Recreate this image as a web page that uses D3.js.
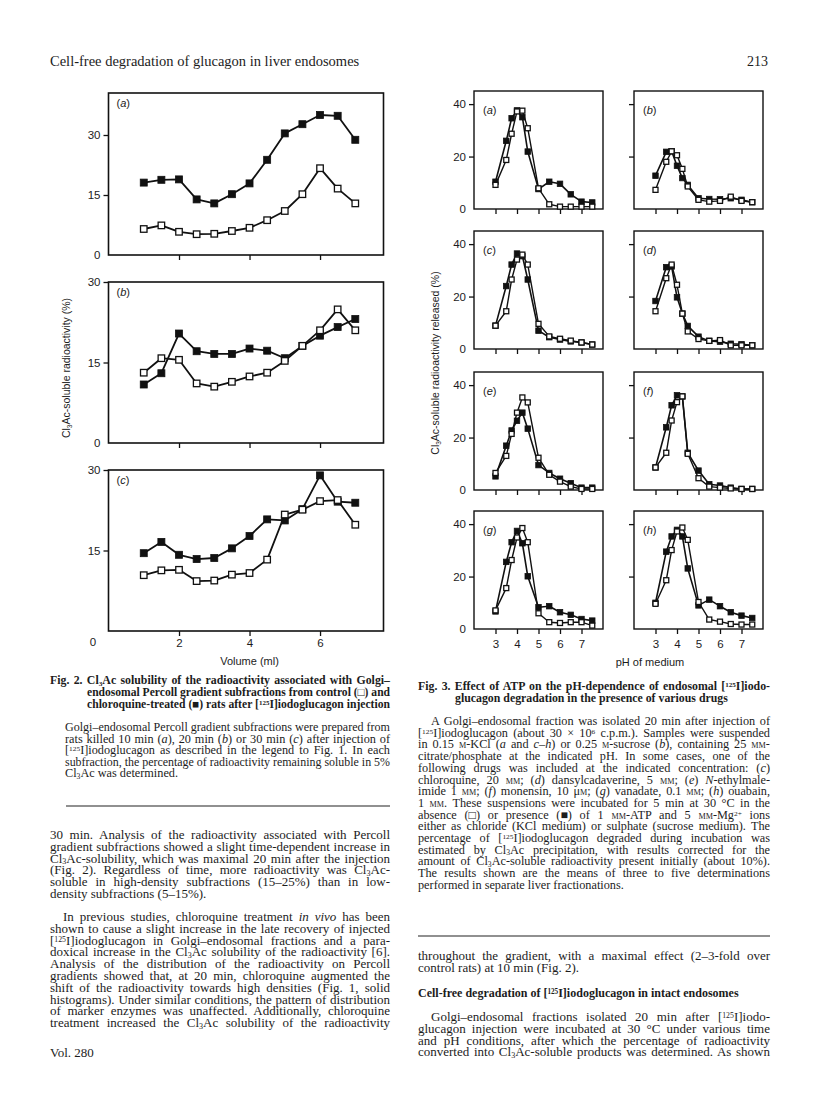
<!DOCTYPE html>
<html>
<head>
<meta charset="utf-8">
<script src="https://cdn.jsdelivr.net/npm/d3@7"></script>
<style>
  body { margin: 0; background: #fff; }
  svg { display: block; }
  text { fill: #1c1c1c; }
</style>
</head>
<body>
<div id="page"></div>
<script>
// ---- Fig. 2 data: Cl3Ac-soluble radioactivity (%) vs volume (ml)
const volume = [1, 1.5, 2, 2.5, 3, 3.5, 4, 4.5, 5, 5.5, 6, 6.5, 7]
const fig2aControl = [6.5, 7.4, 5.8, 5.2, 5.3, 6.0, 6.8, 8.7, 11.0, 15.2, 21.7, 16.6, 12.9]
const fig2aChloroquine = [18.1, 18.8, 18.9, 13.9, 12.9, 15.2, 17.9, 23.8, 30.4, 32.7, 35.0, 34.8, 28.8]
const fig2bControl = [13.1, 15.8, 15.5, 11.1, 10.5, 11.4, 12.4, 13.1, 15.3, 18.1, 21.0, 24.9, 21.0]
const fig2bChloroquine = [10.9, 13.0, 20.4, 17.1, 16.6, 16.6, 17.6, 17.2, 15.8, 18.1, 20.0, 21.6, 23.1]
const fig2cControl = [10.4, 11.3, 11.4, 9.3, 9.4, 10.5, 10.8, 13.3, 21.7, 22.6, 24.2, 24.4, 19.8]
const fig2cChloroquine = [14.5, 16.6, 14.2, 13.4, 13.6, 15.4, 17.7, 20.8, 20.6, 22.7, 29.0, 24.1, 23.9]
const fig2xTicks = [2, 4, 6]

// ---- Fig. 3 data: radioactivity released (%) vs pH, with (ATP) / without (none)
const ph = [3, 3.5, 3.75, 4, 4.25, 4.5, 5, 5.5, 6, 6.5, 7, 7.5]
const fig3aATP = [10.4, 26, 34.6, 37.6, 35, 21.9, 7.6, 10.4, 9.6, 5.6, 2.8, 2.5]
const fig3aNone = [9.2, 18.7, 28.7, 37.2, 37.5, 30.8, 7.9, 1.8, 0.9, 0.9, 0.9, 0.9]
const fig3bATP = [12.7, 21.8, 22, 16.5, 11.8, 9.2, 4.1, 3.8, 3.7, 4.1, 3.5, 2.6]
const fig3bNone = [7.3, 18, 22, 20.5, 15.3, 8.6, 3.5, 2.8, 3.1, 4.7, 3.1, 2.6]
const fig3cATP = [8.9, 24, 32.2, 36.4, 35.4, 26.5, 7, 4.5, 3.6, 2.9, 2.5, 1.7]
const fig3cNone = [8.9, 14.4, 26.5, 34.1, 36, 32.2, 9.6, 4.8, 3.9, 3.2, 2.5, 1.7]
const fig3dATP = [18.3, 31.2, 31.5, 19.7, 13.5, 8.8, 4.7, 3.1, 2.8, 2.0, 1.8, 1.4]
const fig3dNone = [14.4, 27, 32.2, 24.5, 13.5, 6.7, 3.8, 3.1, 3.4, 1.4, 1.4, 1.4]
const fig3eATP = [5.2, 16.9, 22.7, 26.4, 29.5, 23.4, 9.5, 6.5, 4.3, 2.6, 0.9, 0.9]
const fig3eNone = [6.5, 13, 21.4, 29.5, 35.3, 33.4, 12.3, 5.8, 3.2, 1.3, 0.4, 0.4]
const fig3fATP = [8.6, 23.9, 32.3, 36.1, 35.7, 14.2, 7.4, 2.2, 1.7, 0.9, 0.4, 0.4]
const fig3fNone = [8.6, 14.2, 26.5, 33.5, 35.7, 13.8, 4.5, 1.3, 0.9, 0.6, 0.4, 0.4]
const fig3gATP = [6.7, 25.6, 33.1, 37.4, 32.7, 20.1, 8.3, 8.7, 6.4, 5.4, 3.8, 3.2]
const fig3gNone = [7.1, 15.6, 26.3, 34.9, 38.5, 33.1, 6.0, 2.6, 2.3, 2.6, 2.6, 1.3]
const fig3hATP = [10, 29.5, 35.3, 37.8, 35.3, 23.1, 9, 11.2, 8.7, 6.4, 5.1, 4.2]
const fig3hNone = [9.6, 18.6, 30.1, 37.2, 38.7, 34, 10.3, 3.6, 2.8, 1.9, 1.7, 1.7]
const fig3xTicks = [3, 4, 5, 6, 7]
const fig3yTicks = [20, 40]

const W = 816
const H = 1101

const svg = d3
  .select('#page')
  .append('svg')
  .attr('width', W)
  .attr('height', H)

const sans = 'Liberation Sans, Arial, sans-serif'
const serif = 'Liberation Serif, Times New Roman, serif'

// small markup: _{sub} ^{sup} *italic* #{smallcaps}
function rich(sel, str) {
  const parts = str.split(/(_\{[^}]*\}|\^\{[^}]*\}|\*[^*]+\*|#\{[^}]*\})/).filter(s => s !== '')
  let shift = 0
  parts.forEach(p => {
    const t = sel.append('tspan')
    let dy = 0
    if (p.startsWith('_{')) {
      t.text(p.slice(2, -1)).attr('font-size', '62%')
      dy = 1.5
    } else if (p.startsWith('^{')) {
      t.text(p.slice(2, -1)).attr('font-size', '60%')
      dy = -3
    } else if (p.startsWith('*')) {
      t.text(p.slice(1, -1)).attr('font-style', 'italic')
    } else if (p.startsWith('#{')) {
      t.text(p.slice(2, -1)).style('font-variant', 'small-caps')
    } else {
      t.text(p)
    }
    if (dy - shift !== 0) t.attr('dy', dy - shift)
    shift = dy
  })
}

function justify(sel, width) {
  const natural = sel.node().getComputedTextLength()
  const spaces = (sel.text().match(/ /g) || []).length
  if (natural < width && spaces) {
    sel.style('word-spacing', (width - natural) / spaces + 'px')
  } else if (natural > width) {
    sel.attr('textLength', width).attr('lengthAdjust', 'spacingAndGlyphs')
  }
}

// b: {x, right, y, lh, size, weight, indent, hang, stretch, ragged, lines}
function block(b) {
  const s = b.stretch || 1
  b.lines.forEach((line, i) => {
    const x = b.x + (i === 0 ? b.indent || 0 : b.hang || 0)
    const t = svg
      .append('text')
      .attr('transform', `translate(${x},${b.y + i * b.lh}) scale(${s},1)`)
      .attr('font-family', serif)
      .attr('font-size', b.size)
      .attr('font-weight', b.weight || 'normal')
    rich(t, line)
    if (!(b.ragged || []).includes(i)) justify(t, (b.right - x) / s)
  })
}

// ---------- running head
svg.append('text')
  .attr('x', 50).attr('y', 66)
  .attr('font-family', serif).attr('font-size', 14.5)
  .text('Cell-free degradation of glucagon in liver endosomes')
svg.append('text')
  .attr('x', 768).attr('y', 66).attr('text-anchor', 'end')
  .attr('font-family', serif).attr('font-size', 14)
  .text('213')

// ---------- Fig. 2
const x2 = d3.scaleLinear().domain([0, 7.8]).range([108.5, 383.5])

const fig2Panels = [
  { key: 'a', top: 93, bottom: 255, yMax: 40.5, yTicks: [0, 15, 30], control: fig2aControl, treated: fig2aChloroquine },
  { key: 'b', top: 282, bottom: 443, yMax: 30, yTicks: [0, 15, 30], control: fig2bControl, treated: fig2bChloroquine },
  { key: 'c', top: 470, bottom: 631, yMax: 30, yTicks: [15, 30], control: fig2cControl, treated: fig2cChloroquine }
]

function series(g, xs, ys, x, y, filled, size, lw) {
  const line = d3.line().x((d, i) => x(xs[i])).y(d => y(d))
  g.append('path')
    .attr('d', line(ys))
    .attr('fill', 'none')
    .attr('stroke', '#111')
    .attr('stroke-width', lw)
    .attr('stroke-linejoin', 'round')
  g.selectAll(null)
    .data(ys)
    .enter()
    .append('rect')
    .attr('x', (d, i) => x(xs[i]) - size / 2)
    .attr('y', d => y(d) - size / 2)
    .attr('width', size)
    .attr('height', size)
    .attr('fill', filled ? '#111' : '#fff')
    .attr('stroke', '#111')
    .attr('stroke-width', filled ? 0.8 : 1.3)
}

function styleAxis(g, fontSize) {
  g.select('.domain').remove()
  g.selectAll('line').attr('stroke', '#111').attr('stroke-width', 1.3)
  g.selectAll('text')
    .attr('font-family', sans)
    .attr('font-size', fontSize)
    .attr('fill', '#1c1c1c')
}

function panelLabel(x, y, key, size) {
  const t = svg.append('text')
    .attr('x', x).attr('y', y)
    .attr('font-family', sans).attr('font-size', size)
  t.append('tspan').text('(')
  t.append('tspan').attr('font-style', 'italic').text(key)
  t.append('tspan').text(')')
}

fig2Panels.forEach(p => {
  const y = d3.scaleLinear().domain([0, p.yMax]).range([p.bottom, p.top])
  const g = svg.append('g')

  g.append('g')
    .attr('transform', `translate(0,${p.bottom})`)
    .call(d3.axisBottom(x2).tickValues(fig2xTicks).tickSize(5).tickPadding(3)
      .tickFormat(p.key === 'c' ? d3.format('d') : ''))
    .call(a => styleAxis(a, 11.5))

  const yAxis = g.append('g')
    .attr('transform', `translate(${x2.range()[0]},0)`)
    .call(d3.axisLeft(y).tickValues(p.yTicks).tickSize(5).tickPadding(3).tickFormat(d3.format('d')))
    .call(a => styleAxis(a, 11.5))
  yAxis.selectAll('.tick').filter(d => d === 0).select('line').remove()

  g.append('rect')
    .attr('x', x2.range()[0])
    .attr('y', p.top)
    .attr('width', x2.range()[1] - x2.range()[0])
    .attr('height', p.bottom - p.top)
    .attr('fill', 'none')
    .attr('stroke', '#111')
    .attr('stroke-width', 1.6)

  series(g, volume, p.treated, x2, y, true, 7, 1.8)
  series(g, volume, p.control, x2, y, false, 6.5, 1.8)

  panelLabel(x2.range()[0] + 8, p.top + 14, p.key, 11)
})

// origin label under panel (c)
svg.append('text')
  .attr('x', 93).attr('y', 646).attr('text-anchor', 'middle')
  .attr('font-family', sans).attr('font-size', 11.5)
  .text('0')

svg.append('text')
  .attr('x', x2(4)).attr('y', 665).attr('text-anchor', 'middle')
  .attr('font-family', sans).attr('font-size', 11)
  .text('Volume (ml)')

const yTitle2 = svg.append('text')
  .attr('transform', 'translate(70,368) rotate(-90)')
  .attr('text-anchor', 'middle')
  .attr('font-family', sans).attr('font-size', 10.5)
rich(yTitle2, 'Cl_{3}Ac-soluble radioactivity (%)')

// ---------- Fig. 3
const fig3Cols = [474, 634]
const fig3Rows = [91, 231, 372, 511]
const fig3W = 129
const fig3H = 118

const fig3Panels = [
  { key: 'a', col: 0, row: 0, atp: fig3aATP, none: fig3aNone },
  { key: 'b', col: 1, row: 0, atp: fig3bATP, none: fig3bNone },
  { key: 'c', col: 0, row: 1, atp: fig3cATP, none: fig3cNone },
  { key: 'd', col: 1, row: 1, atp: fig3dATP, none: fig3dNone },
  { key: 'e', col: 0, row: 2, atp: fig3eATP, none: fig3eNone },
  { key: 'f', col: 1, row: 2, atp: fig3fATP, none: fig3fNone },
  { key: 'g', col: 0, row: 3, atp: fig3gATP, none: fig3gNone },
  { key: 'h', col: 1, row: 3, atp: fig3hATP, none: fig3hNone }
]

fig3Panels.forEach(p => {
  const left = fig3Cols[p.col]
  const top = fig3Rows[p.row]
  const x = d3.scaleLinear().domain([2, 8]).range([left, left + fig3W])
  const y = d3.scaleLinear().domain([0, 45]).range([top + fig3H, top])
  const g = svg.append('g')

  g.append('g')
    .attr('transform', `translate(0,${top + fig3H})`)
    .call(d3.axisBottom(x).tickValues(fig3xTicks).tickSize(5).tickPadding(6)
      .tickFormat(p.row === 3 ? d3.format('d') : ''))
    .call(a => styleAxis(a, 11.5))

  const yAxis = g.append('g')
    .attr('transform', `translate(${left},0)`)
    .call(d3.axisLeft(y).tickValues(p.col === 0 ? [0, 20, 40] : fig3yTicks).tickSize(5).tickPadding(3)
      .tickFormat(p.col === 0 ? d3.format('d') : ''))
    .call(a => styleAxis(a, 11.5))
  yAxis.selectAll('.tick').filter(d => d === 0).select('line').remove()

  g.append('rect')
    .attr('x', left)
    .attr('y', top)
    .attr('width', fig3W)
    .attr('height', fig3H)
    .attr('fill', 'none')
    .attr('stroke', '#111')
    .attr('stroke-width', 1.4)

  series(g, ph, p.atp, x, y, true, 5.5, 1.6)
  series(g, ph, p.none, x, y, false, 5, 1.4)

  panelLabel(left + 9, top + 23, p.key, 11)
})

svg.append('text')
  .attr('x', 650).attr('y', 666).attr('text-anchor', 'middle')
  .attr('font-family', sans).attr('font-size', 11)
  .text('pH of medium')

const yTitle3 = svg.append('text')
  .attr('transform', 'translate(439,363) rotate(-90)')
  .attr('text-anchor', 'middle')
  .attr('font-family', sans).attr('font-size', 10.5)
rich(yTitle3, 'Cl_{3}Ac-soluble radioactivity released (%)')

// ---------- captions and body text
block({
  x: 50, right: 390, y: 684, lh: 12, size: 11.5, weight: 'bold', hang: 37, stretch: 1.03,
  lines: [
    'Fig. 2. Cl_{3}Ac solubility of the radioactivity associated with Golgi–',
    'endosomal Percoll gradient subfractions from control (□) and',
    'chloroquine-treated (■) rats after [^{125}I]iodoglucagon injection'
  ]
})

block({
  x: 65, right: 390, y: 731, lh: 11.6, size: 11.8, stretch: 1.04,
  ragged: [4],
  lines: [
    'Golgi–endosomal Percoll gradient subfractions were prepared from',
    'rats killed 10 min (*a*), 20 min (*b*) or 30 min (*c*) after injection of',
    '[^{125}I]iodoglucagon as described in the legend to Fig. 1. In each',
    'subfraction, the percentage of radioactivity remaining soluble in 5%',
    'Cl_{3}Ac was determined.'
  ]
})

svg.append('line')
  .attr('x1', 66).attr('x2', 390)
  .attr('y1', 806).attr('y2', 806)
  .attr('stroke', '#222').attr('stroke-width', 1.2)

block({
  x: 50, right: 390, y: 839, lh: 11.8, size: 12.5, stretch: 1.04,
  ragged: [5],
  lines: [
    '30 min. Analysis of the radioactivity associated with Percoll',
    'gradient subfractions showed a slight time-dependent increase in',
    'Cl_{3}Ac-solubility, which was maximal 20 min after the injection',
    '(Fig. 2). Regardless of time, more radioactivity was Cl_{3}Ac-',
    'soluble in high-density subfractions (15–25%) than in low-',
    'density subfractions (5–15%).'
  ]
})

block({
  x: 50, right: 390, y: 921, lh: 11.8, size: 12.5, indent: 13, stretch: 1.04,
  lines: [
    'In previous studies, chloroquine treatment *in vivo* has been',
    'shown to cause a slight increase in the late recovery of injected',
    '[^{125}I]iodoglucagon in Golgi–endosomal fractions and a para-',
    'doxical increase in the Cl_{3}Ac solubility of the radioactivity [6].',
    'Analysis of the distribution of the radioactivity on Percoll',
    'gradients showed that, at 20 min, chloroquine augmented the',
    'shift of the radioactivity towards high densities (Fig. 1, solid',
    'histograms). Under similar conditions, the pattern of distribution',
    'of marker enzymes was unaffected. Additionally, chloroquine',
    'treatment increased the Cl_{3}Ac solubility of the radioactivity'
  ]
})

svg.append('text')
  .attr('x', 50).attr('y', 1057)
  .attr('font-family', serif).attr('font-size', 13)
  .text('Vol. 280')

block({
  x: 418, right: 770, y: 690, lh: 12, size: 11.5, weight: 'bold', hang: 37, stretch: 1.03,
  ragged: [1],
  lines: [
    'Fig. 3. Effect of ATP on the pH-dependence of endosomal [^{125}I]iodo-',
    'glucagon degradation in the presence of various drugs'
  ]
})

block({
  x: 418, right: 770, y: 725, lh: 11.7, size: 11.8, indent: 13, stretch: 1.04,
  ragged: [14],
  lines: [
    'A Golgi–endosomal fraction was isolated 20 min after injection of',
    '[^{125}I]iodoglucagon (about 30 × 10^{6} c.p.m.). Samples were suspended',
    'in 0.15 #{m}-KCl (*a* and *c–h*) or 0.25 #{m}-sucrose (*b*), containing 25 #{mm}-',
    'citrate/phosphate at the indicated pH. In some cases, one of the',
    'following drugs was included at the indicated concentration: (*c*)',
    'chloroquine, 20 #{mm}; (*d*) dansylcadaverine, 5 #{mm}; (*e*) *N*-ethylmale-',
    'imide 1 #{mm}; (*f*) monensin, 10 μ#{m}; (*g*) vanadate, 0.1 #{mm}; (*h*) ouabain,',
    '1 #{mm}. These suspensions were incubated for 5 min at 30 °C in the',
    'absence (□) or presence (■) of 1 #{mm}-ATP and 5 #{mm}-Mg^{2+} ions',
    'either as chloride (KCl medium) or sulphate (sucrose medium). The',
    'percentage of [^{125}I]iodoglucagon degraded during incubation was',
    'estimated by Cl_{3}Ac precipitation, with results corrected for the',
    'amount of Cl_{3}Ac-soluble radioactivity present initially (about 10%).',
    'The results shown are the means of three to five determinations',
    'performed in separate liver fractionations.'
  ]
})

svg.append('line')
  .attr('x1', 418).attr('x2', 770)
  .attr('y1', 936).attr('y2', 936)
  .attr('stroke', '#222').attr('stroke-width', 1.2)

block({
  x: 418, right: 770, y: 960, lh: 11.8, size: 12.5, stretch: 1.04,
  ragged: [1],
  lines: [
    'throughout the gradient, with a maximal effect (2–3-fold over',
    'control rats) at 10 min (Fig. 2).'
  ]
})

block({
  x: 418, right: 770, y: 997, lh: 12, size: 12, weight: 'bold',
  ragged: [0],
  lines: ['Cell-free degradation of [^{125}I]iodoglucagon in intact endosomes']
})

block({
  x: 418, right: 770, y: 1021, lh: 11.8, size: 12.5, indent: 13, stretch: 1.04,
  lines: [
    'Golgi–endosomal fractions isolated 20 min after [^{125}I]iodo-',
    'glucagon injection were incubated at 30 °C under various time',
    'and pH conditions, after which the percentage of radioactivity',
    'converted into Cl_{3}Ac-soluble products was determined. As shown'
  ]
})
</script>
</body>
</html>
